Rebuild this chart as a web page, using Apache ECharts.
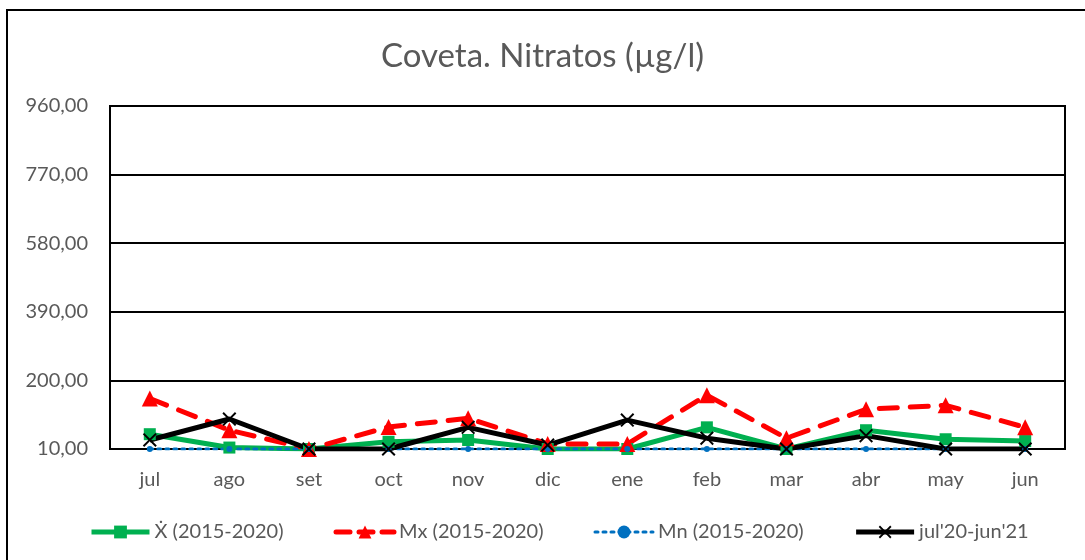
<!DOCTYPE html>
<html>
<head>
<meta charset="utf-8">
<script src="https://cdn.jsdelivr.net/npm/echarts@6/dist/echarts.min.js"></script>
<style>
  html, body { margin: 0; padding: 0; background: #fff; }
  #main { width: 1085px; height: 560px; }
</style>
</head>
<body>
<div id="main"></div>
<script>
// meses
var months = ['jul', 'ago', 'set', 'oct', 'nov', 'dic', 'ene', 'feb', 'mar', 'abr', 'may', 'jun'];
// media 2015-2020
var meanVals = [51, 14, 10, 30, 35, 10, 10, 70, 10, 62, 37, 32];
// maximo 2015-2020
var maxVals = [150, 62, 10, 71, 95, 24, 24, 159, 40, 120, 131, 70];
// minimo 2015-2020
var minVals = [10, 10, 10, 10, 10, 10, 10, 10, 10, 10, 10, 10];
// jul'20-jun'21
var curVals = [35, 93, 10, 10, 70, 21, 90, 40, 10, 47, 10, 10];
// eje y
var yTicks = [10, 200, 390, 580, 770, 960];

var base = yTicks[0];
var step = yTicks[1] - yTicks[0];
function shift(arr) {
  return arr.map(function (v) { return v - base; });
}
var font = 'Lato, "Liberation Sans", sans-serif';
var crossPath = 'path://M0,1L1,0L5,4L9,0L10,1L6,5L10,9L9,10L5,6L1,10L0,9L4,5Z';

var chart = echarts.init(document.getElementById('main'));
var option = {
  animation: false,
  title: {
    text: 'Coveta. Nitratos (µg/l)',
    left: 'center',
    top: 35,
    textStyle: { fontFamily: font, fontSize: 33, fontWeight: 'normal', color: '#595959' }
  },
  graphic: [{
    type: 'rect',
    shape: { x: 7, y: 10, width: 1100, height: 600 },
    style: { fill: 'none', stroke: '#000', lineWidth: 2 },
    silent: true
  }],
  legend: {
    bottom: 13,
    left: 84,
    itemWidth: 58,
    itemHeight: 16,
    itemGap: 50,
    textStyle: { fontFamily: font, fontSize: 20, color: '#595959' },
    data: [
      { name: 'Ẋ (2015-2020)', lineStyle: { width: 5 } },
      { name: 'Mx (2015-2020)', lineStyle: { width: 5, type: [14, 9] } },
      { name: 'Mn (2015-2020)', lineStyle: { width: 3, type: [3, 5] } },
      { name: "jul'20-jun'21", lineStyle: { width: 5 } }
    ]
  },
  grid: {
    left: 110,
    right: 20,
    top: 106,
    bottom: 111,
    show: true,
    borderColor: '#000',
    borderWidth: 2
  },
  xAxis: {
    type: 'category',
    data: months,
    boundaryGap: true,
    axisLine: { lineStyle: { color: '#000', width: 2 } },
    axisTick: { inside: true, length: 5, lineStyle: { color: '#000' } },
    axisLabel: { fontFamily: font, fontSize: 20, color: '#595959', margin: 21 }
  },
  yAxis: {
    type: 'value',
    min: 0,
    max: yTicks[yTicks.length - 1] - base,
    interval: step,
    axisLine: { show: true, lineStyle: { color: '#000', width: 2 } },
    axisTick: { show: false },
    splitLine: { lineStyle: { color: '#000', width: 2 } },
    axisLabel: {
      fontFamily: font, fontSize: 20, color: '#595959', margin: 22,
      formatter: function (v) { return (v + base).toFixed(2).replace('.', ','); }
    }
  },
  series: [
    {
      name: 'Ẋ (2015-2020)',
      type: 'line',
      data: shift(meanVals),
      symbol: 'rect',
      symbolSize: 12,
      itemStyle: { color: '#00b050' },
      lineStyle: { color: '#00b050', width: 5 }
    },
    {
      name: 'Mx (2015-2020)',
      type: 'line',
      data: shift(maxVals),
      symbol: 'triangle',
      symbolSize: 16,
      itemStyle: { color: '#ff0000' },
      lineStyle: { color: '#ff0000', width: 5, type: [18, 13], cap: 'round' }
    },
    {
      name: 'Mn (2015-2020)',
      type: 'line',
      data: shift(minVals),
      symbol: 'circle',
      symbolSize: 6,
      itemStyle: { color: '#0070c0' },
      lineStyle: { color: '#0070c0', width: 3, type: [3, 5], cap: 'round' }
    },
    {
      name: "jul'20-jun'21",
      type: 'line',
      data: shift(curVals),
      symbol: crossPath,
      symbolSize: 14,
      itemStyle: { color: '#000' },
      lineStyle: { color: '#000', width: 5 }
    }
  ]
};
chart.setOption(option);
</script>
</body>
</html>
